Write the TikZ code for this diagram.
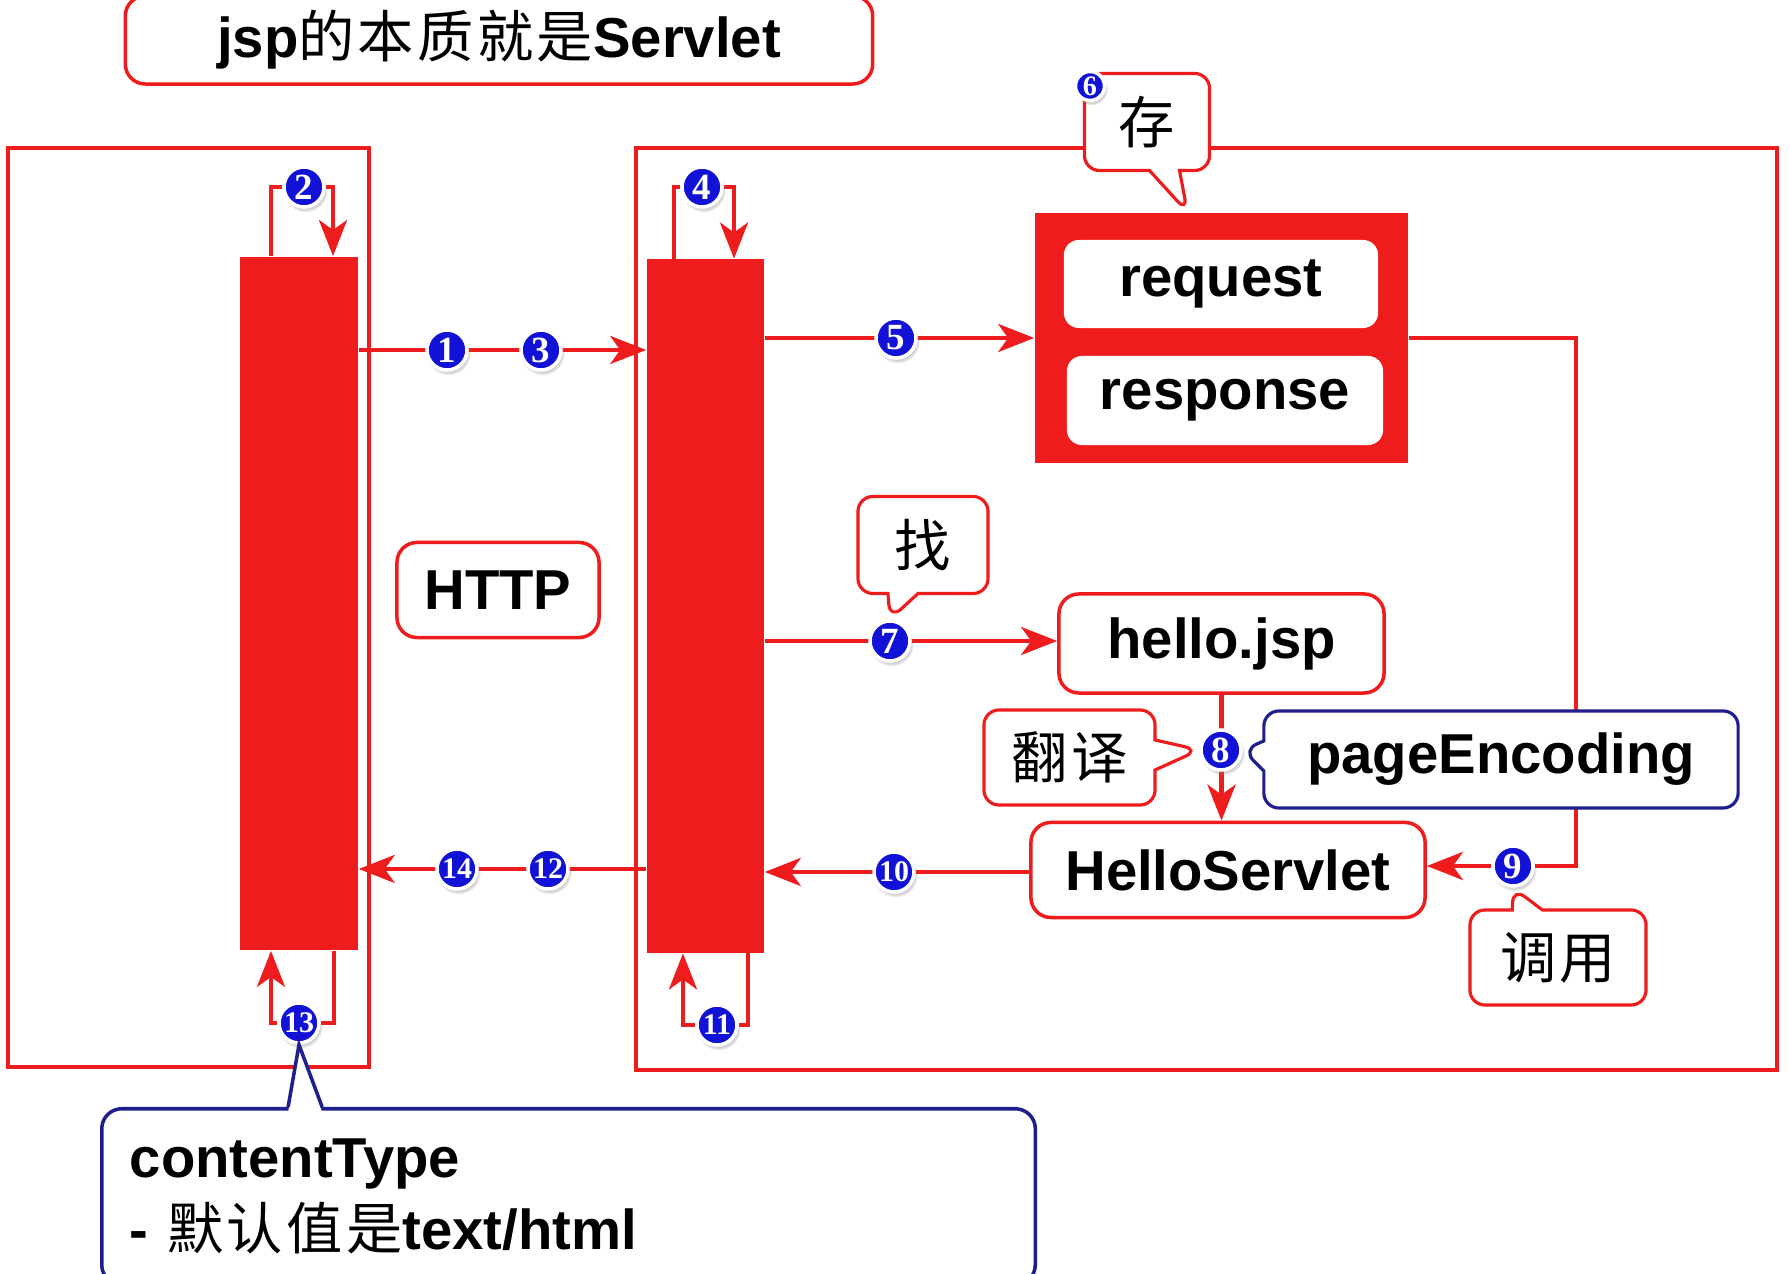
\documentclass[tikz,border=0pt]{standalone}
\usepackage{fontspec}
\setmainfont{Liberation Sans}
\newfontfamily\cjk{Noto Sans CJK SC}[LetterSpace=6]
\newfontfamily\numfont{Liberation Serif}
\usetikzlibrary{positioning, arrows.meta, backgrounds, shapes.callouts, shadows}

\definecolor{jred}{HTML}{EE1C1C}
\definecolor{jnavy}{HTML}{1E1E8C}
\definecolor{jball}{HTML}{1212D6}
\newcommand{\zh}[1]{{\cjk\mdseries #1}}

\begin{document}
\begin{tikzpicture}[
            x=0.01cm, y=-0.01cm,
            outer/.style={draw=jred, line width=1.2pt},
            bar/.style={fill=jred, minimum width=1.18cm, minimum height=6.93cm, inner sep=0pt},
            box/.style={draw=jred, line width=1pt, fill=white, rounded corners=0.2cm, inner sep=0pt, font=\bfseries\fontsize{16}{19}\selectfont},
            slot/.style={fill=white, rounded corners=0.15cm, inner sep=0pt, font=\bfseries\fontsize{16}{19}\selectfont},
            note/.style={rectangle callout, draw=jred, fill=white, line width=0.9pt, rounded corners=0.15cm, callout pointer width=0.3cm, inner sep=0pt, font=\cjk\fontsize{16}{19}\selectfont},
            bluenote/.style={note, draw=jnavy, font=\bfseries\fontsize{16}{19}\selectfont},
            num/.style={circle, fill=jball, draw=white, line width=1pt, minimum size=0.40cm, inner sep=0pt, text=white, font=\numfont\bfseries\fontsize{10.5}{10.5}\selectfont, circular drop shadow={shadow xshift=0.4pt, shadow yshift=-0.8pt, opacity=0.35, shadow scale=1.12}},
            num2/.style={num, font=\numfont\bfseries\fontsize{8.5}{8.5}\selectfont},
            arr/.style={-{Stealth[length=3.6mm, width=2.8mm, inset=1mm]}, draw=jred, line width=1.3pt}
        ]
            \useasboundingbox (0,0) rectangle (1790,1274);
            \clip (0,0) rectangle (1790,1274);

            % Title
            \node[box, minimum width=7.47cm, minimum height=0.88cm] (title) at (499,40) {jsp\zh{的本质就是}Servlet};

            % Browser and server
            \node[bar] (browser) at (299,603.5) {};
            \node[bar, minimum width=1.17cm] (server) at (705.5,606) {};
            \node[box, minimum width=2.02cm, minimum height=0.95cm] (http) at (498,590) {HTTP};

            \node[fill=jred, minimum width=3.73cm, minimum height=2.5cm] (store) at (1221.5,338) {};
            \node[slot, minimum width=3.14cm, minimum height=0.88cm] (request) at (1221,284) {request};
            \node[slot, minimum width=3.16cm, minimum height=0.89cm] (response) at (1225,400.5) {response};

            \node[box, minimum width=3.25cm, minimum height=0.99cm] (jsp) at (1221.5,643.5) {hello.jsp};
            \node[box, minimum width=3.94cm, minimum height=0.95cm] (servlet) at (1228,870) {HelloServlet};

            % Numbered steps
            \node[num] (n1) at (447,350) {1};
            \node[num] (n2) at (304,187) {2};
            \node[num] (n3) at (541,350) {3};
            \node[num] (n4) at (702,187) {4};
            \node[num] (n5) at (896,338) {5};
            \node[num] (n7) at (890,641) {7};
            \node[num] (n8) at (1221,750) {8};
            \node[num] (n9) at (1513,866) {9};
            \node[num2] (n10) at (894,872) {10};
            \node[num2] (n11) at (717,1025) {11};
            \node[num2] (n12) at (548,869) {12};
            \node[num2] (n13) at (299,1023) {13};
            \node[num2] (n14) at (457,869) {14};

            % Callouts
            \node[note, minimum width=1.25cm, minimum height=0.97cm, callout absolute pointer={([xshift=-3.4mm]store.north)}] (save) at (1147,122) {存};
            \node[num, minimum size=0.29cm, font=\numfont\bfseries\fontsize{8}{8}\selectfont] (n6) at (1090,86) {6};
            \node[note, minimum width=1.30cm, minimum height=0.97cm, callout absolute pointer={(n7.north)}] (find) at (923,545) {找};
            \node[note, minimum width=1.71cm, minimum height=0.95cm, callout absolute pointer={(n8.west)}] (translate) at (1069.5,757.5) {翻译};
            \node[bluenote, minimum width=4.74cm, minimum height=0.97cm, callout absolute pointer={(n8.east)}] (encoding) at (1501,759.5) {pageEncoding};
            \node[note, minimum width=1.76cm, minimum height=0.95cm, callout absolute pointer={(n9.south)}] (invoke) at (1558,957.5) {调用};

            \node[anchor=north west, draw=jnavy, line width=1pt, fill=white, rounded corners=0.2cm, text width=8.77cm, inner xsep=0.28cm, minimum height=1.76cm, align=left, font=\bfseries\fontsize{16}{20.5}\selectfont] (ctype) at (100,1107) {contentType\\- \zh{默认值是}text/html};
            \fill[white] ([shift={(1.88cm,-1.5pt)}]ctype.north west) -- (n13.south) -- ([shift={(2.22cm,-1.5pt)}]ctype.north west) -- cycle;
            \draw[jnavy, line width=1pt] ([xshift=1.88cm]ctype.north west) -- (n13.south) -- ([xshift=2.22cm]ctype.north west);

            \begin{pgfonlayer}{background}
                \fill[white] (0,0) rectangle (1790,1274);
                \draw[outer] (8,148) rectangle (369,1067);
                \draw[outer] (636,148) rectangle (1777,1070);

                % Self loops
                \draw[arr] ([xshift=-2.8mm]browser.north) |- (n2) -| ([xshift=3.4mm]browser.north);
                \draw[arr] ([xshift=-3.15mm]server.north) |- (n4) -| ([xshift=2.85mm]server.north);
                \draw[arr] ([xshift=4.25mm]server.south) |- (n11) -| ([xshift=-2.25mm]server.south);
                \draw[arr] ([xshift=3.5mm]browser.south) |- (n13) -| ([xshift=-2.8mm]browser.south);

                % Request flow
                \draw[arr] (browser.east |- n1) -- (server.west |- n1);
                \draw[arr] (server.east |- n5) -- (store.west);
                \draw[arr] (server.east |- n7) -- (jsp.west |- n7);
                \draw[arr] (jsp.south) -- (jsp.south |- servlet.north);
                \draw[arr] (store.east) -- ++(167,0) |- (n9) -- (servlet.east |- n9);

                % Response flow
                \draw[arr] (servlet.west |- n10) -- (server.east |- n10);
                \draw[arr] (server.west |- n12) -- (browser.east |- n12);
            \end{pgfonlayer}
        \end{tikzpicture}
\end{document}
